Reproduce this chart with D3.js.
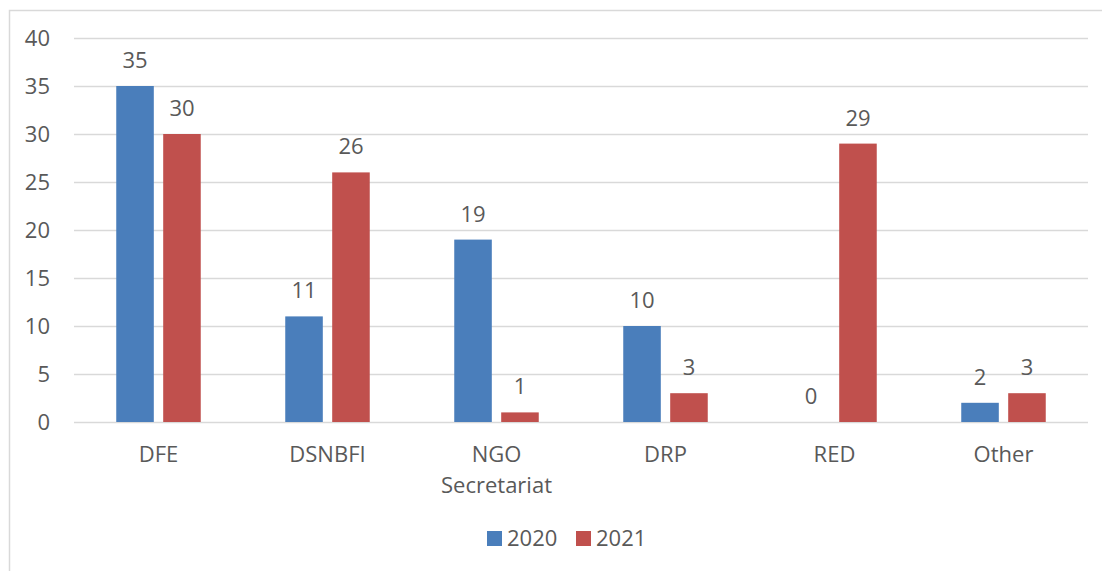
<!DOCTYPE html>
<html>
<head>
<meta charset="utf-8">
<script src="https://cdn.jsdelivr.net/npm/d3@7"></script>
<style>
  body { margin: 0; background: #fff; }
  text { font-family: "Open Sans", "Noto Sans", sans-serif; fill: #595959; }
</style>
</head>
<body>
<div id="chart"></div>
<script>
// categories and series
const categories = ["DFE", "DSNBFI", "NGO Secretariat", "DRP", "RED", "Other"]
const series = ["2020", "2021"]
const values2020 = [35, 11, 19, 10, 0, 2]
const values2021 = [30, 26, 1, 3, 29, 3]
const yTicks = [0, 5, 10, 15, 20, 25, 30, 35, 40]

const colors = { "2020": "#4a7ebb", "2021": "#c0504d" }

const width = 1102,
      height = 571,
      margin = ({ top: 38, right: 14, bottom: 149, left: 74 })

let data = categories.map((c, i) => ({ cat: c, "2020": values2020[i], "2021": values2021[i] }))

let svg = d3.select("#chart")
    .append("svg")
    .attr("width", width)
    .attr("height", height)

// chart border
svg.append("rect")
    .attr("x", 9.5).attr("y", 10.5)
    .attr("width", width).attr("height", height)
    .attr("fill", "none")
    .attr("stroke", "#d9d9d9")
    .attr("stroke-width", 1.5)

let x = d3.scaleBand()
    .domain(categories)
    .range([margin.left, width - margin.right])

let xs = d3.scaleBand()
    .domain(series)
    .range([x.bandwidth() * 0.25, x.bandwidth() * 0.75])
    .paddingInner(0.2)

let y = d3.scaleLinear()
    .domain([0, 40])
    .range([height - margin.bottom, margin.top])

// gridlines + y labels
let yAxis = svg.append("g")
    .attr("transform", `translate(${margin.left},0)`)
    .call(d3.axisLeft(y).tickValues(yTicks).tickSize(-(width - margin.left - margin.right)).tickPadding(24))
yAxis.select(".domain").remove()
yAxis.selectAll("line").attr("stroke", "#d9d9d9").attr("stroke-width", 1.5)
yAxis.selectAll("text")
    .style("font-size", "22px")
    .style("font-family", '"Open Sans", sans-serif')
    .attr("fill", "#595959")

// bars
let group = svg.selectAll(".grp")
    .data(data)
    .join("g")
    .attr("class", "grp")
    .attr("transform", d => `translate(${x(d.cat)},0)`)

group.selectAll("rect")
    .data(d => series.map(s => ({ s: s, v: d[s] })))
    .join("rect")
    .attr("x", d => xs(d.s))
    .attr("width", xs.bandwidth())
    .attr("y", d => y(d.v))
    .attr("height", d => y(0) - y(d.v))
    .attr("fill", d => colors[d.s])

// value labels
group.selectAll(".val")
    .data(d => series.map(s => ({ s: s, v: d[s] })))
    .join("text")
    .attr("class", "val")
    .attr("x", d => xs(d.s) + xs.bandwidth() / 2)
    .attr("y", d => y(d.v) - 18)
    .attr("text-anchor", "middle")
    .style("font-size", "22px")
    .text(d => d.v)

// category labels
let catLabel = svg.selectAll(".cat")
    .data(categories)
    .join("text")
    .attr("class", "cat")
    .attr("x", d => x(d) + x.bandwidth() / 2)
    .attr("y", height - margin.bottom + 40)
    .attr("text-anchor", "middle")
    .style("font-size", "22px")

catLabel.selectAll("tspan")
    .data(d => d === "NGO Secretariat" ? ["NGO", "Secretariat"] : [d])
    .join("tspan")
    .attr("x", function() { return d3.select(this.parentNode).attr("x") })
    .attr("dy", (d, i) => i === 0 ? 0 : 31)
    .text(d => d)

// legend
let legend = svg.append("g")
    .attr("transform", "translate(487,531)")

let item = legend.selectAll("g")
    .data(series)
    .join("g")
    .attr("transform", (d, i) => `translate(${i * 89},0)`)

item.append("rect")
    .attr("width", 15).attr("height", 15)
    .attr("fill", d => colors[d])

item.append("text")
    .attr("x", 20)
    .attr("y", 15)
    .style("font-size", "22px")
    .text(d => d)
</script>
</body>
</html>
